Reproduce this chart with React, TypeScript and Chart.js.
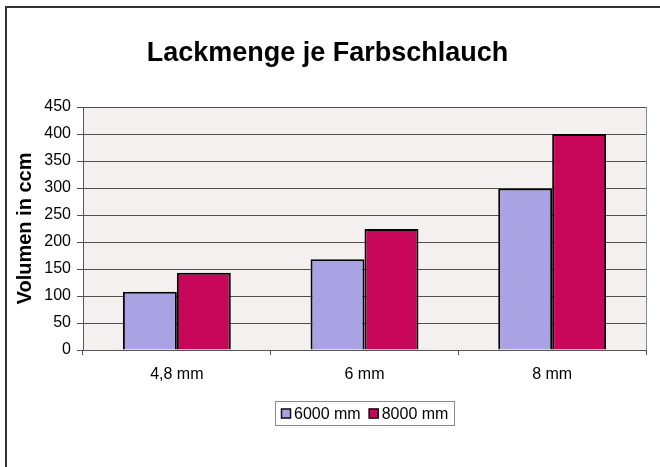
import React, { useEffect, useRef } from "react";
import { Chart, registerables } from "chart.js";

Chart.register(...registerables);

const chartTitle = "Lackmenge je Farbschlauch";
const yAxisTitle = "Volumen in ccm";
const categories = ["4,8 mm", "6 mm", "8 mm"];
const seriesLabels = ["6000 mm", "8000 mm"];
const series6000 = [108, 168, 299];
const series8000 = [143, 224, 400];
const yMin = 0;
const yMax = 450;
const yStep = 50;

const FONT = "'Liberation Sans', Arial, sans-serif";
const COLORS = ["#A9A3E3", "#C8075A"];

const customPlugin = {
  id: "customDecor",
  beforeDraw(chart: any) {
    const { ctx, chartArea: a } = chart;
    ctx.save();
    ctx.fillStyle = "#ffffff";
    ctx.fillRect(0, 0, chart.width, chart.height);
    ctx.fillStyle = "#F4F0F0";
    ctx.fillRect(a.left, a.top, a.right - a.left, a.bottom - a.top);
    ctx.restore();
  },
  afterDraw(chart: any) {
    const { ctx, chartArea: a } = chart;
    ctx.save();
    // right border of plot area
    ctx.strokeStyle = "#8a8a8a";
    ctx.lineWidth = 1;
    ctx.beginPath();
    ctx.moveTo(Math.round(a.right) + 0.5, a.top);
    ctx.lineTo(Math.round(a.right) + 0.5, a.bottom);
    ctx.stroke();

    // title
    ctx.fillStyle = "#000";
    ctx.font = `bold 27px ${FONT}`;
    ctx.textAlign = "center";
    ctx.textBaseline = "alphabetic";
    ctx.fillText(chartTitle, 327.5, 61);

    // legend
    const ds = chart.data.datasets;
    ctx.font = `16px ${FONT}`;
    const sw = 10;
    const gapSwatch = 3;
    const gapItem = 8;
    const padX = 6;
    const widths = ds.map((d: any) => ctx.measureText(d.label).width);
    let total = padX * 2;
    widths.forEach((w: number, i: number) => {
      total += sw + gapSwatch + w + (i < widths.length - 1 ? gapItem : 0);
    });
    const cx = (a.left + a.right) / 2;
    const bx = Math.round(cx - total / 2);
    const by = 401;
    const bh = 24;
    ctx.strokeStyle = "#8a8a8a";
    ctx.lineWidth = 1;
    ctx.strokeRect(bx + 0.5, by + 0.5, Math.round(total), bh);
    let x = bx + padX;
    const my = by + bh / 2 + 0.5;
    ds.forEach((d: any, i: number) => {
      ctx.fillStyle = d.backgroundColor;
      ctx.fillRect(x, my - sw / 2, sw, sw);
      ctx.strokeStyle = "#111";
      ctx.lineWidth = 1.5;
      ctx.strokeRect(x + 0.5, my - sw / 2 + 0.5, sw - 1, sw - 1);
      x += sw + gapSwatch;
      ctx.fillStyle = "#000";
      ctx.textAlign = "left";
      ctx.textBaseline = "middle";
      ctx.fillText(d.label, x, my + 1);
      x += widths[i] + gapItem;
    });
    ctx.restore();
  },
};

export default function App() {
  const ref = useRef<HTMLCanvasElement | null>(null);

  useEffect(() => {
    if (!ref.current) return;
    const chart = new Chart(ref.current, {
      type: "bar",
      data: {
        labels: categories,
        datasets: [
          {
            label: seriesLabels[0],
            data: series6000,
            backgroundColor: COLORS[0],
            borderColor: "#000",
            borderWidth: 2,
          },
          {
            label: seriesLabels[1],
            data: series8000,
            backgroundColor: COLORS[1],
            borderColor: "#000",
            borderWidth: 2,
          },
        ],
      },
      options: {
        responsive: false,
        animation: false,
        layout: { padding: { left: 13, right: 14, top: 107, bottom: 77 } },
        datasets: {
          bar: { categoryPercentage: 0.575, barPercentage: 1 },
        },
        plugins: {
          legend: { display: false },
          title: { display: false },
          tooltip: { enabled: false },
        },
        scales: {
          x: {
            afterFit: (s: any) => {
              s.height = 40;
            },
            grid: {
              display: true,
              drawOnChartArea: false,
              drawTicks: true,
              tickLength: 5,
              color: "#555",
              offset: true,
            },
            border: { display: true, color: "#555", width: 1 },
            ticks: {
              color: "#000",
              font: { family: FONT, size: 16 },
              padding: 10,
            },
          },
          y: {
            min: yMin,
            max: yMax,
            afterFit: (s: any) => {
              s.width = 70;
            },
            grid: {
              color: "#505050",
              lineWidth: 1,
              drawTicks: true,
              tickLength: 6,
            },
            border: { display: true, color: "#555", width: 1 },
            ticks: {
              stepSize: yStep,
              color: "#000",
              font: { family: FONT, size: 16 },
              padding: 6,
            },
            title: {
              display: true,
              text: yAxisTitle,
              color: "#000",
              font: { family: FONT, size: 20, weight: "bold" },
              padding: 0,
            },
          },
        },
      },
      plugins: [customPlugin],
    });
    return () => chart.destroy();
  }, []);

  return (
    <div
      style={{
        position: "absolute",
        left: 0,
        top: 0,
        width: 660,
        height: 467,
        overflow: "hidden",
        background: "#fff",
      }}
    >
      <canvas ref={ref} width={660} height={467} style={{ display: "block" }} />
      <div
        style={{
          position: "absolute",
          left: 5,
          top: 6,
          width: 700,
          height: 500,
          borderTop: "2px solid #333",
          borderLeft: "2px solid #333",
          pointerEvents: "none",
        }}
      />
    </div>
  );
}
